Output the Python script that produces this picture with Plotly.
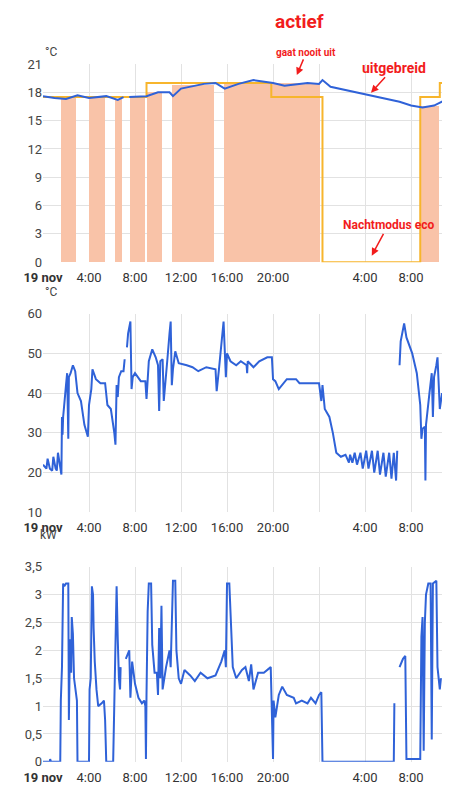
import plotly.graph_objects as go

# --- top panel: room temperature, setpoint, heating periods (hours since 19 nov 0:00)
room_t = [0, 1, 2, 3, 4, 5.5, 6.5, 7.0, 7.2, 7.5, 9, 10, 11, 11.3, 12, 14, 15, 15.8, 17, 18.3,
          20, 21, 23, 24, 24.3, 25, 28, 31, 32, 33, 34, 35]
room_v = [17.6, 17.4, 17.3, 17.7, 17.4, 17.6, 17.2, 17.5, None, 17.5, 17.6, 18, 18, 17.6, 18.4,
          18.9, 19, 18.4, 18.9, 19.3, 19, 18.7, 19, 18.9, 19.3, 18.6, 17.8, 17, 16.6, 16.4, 16.6, 17.2]

set_t = [0, 9.0, 19.85, 24.3, 32.8, 34.5, 34.8]
set_v = [17.5, 19, 17.5, 0, 17.5, 19, 19]

heat_start = [1.57, 4.0, 6.29, 7.57, 9.0, 11.2, 15.77, 32.86]
heat_end = [2.91, 5.43, 6.91, 8.89, 10.31, 14.91, 24.06, 34.43]
heat_top = [17.4, 17.5, 17.3, 17.5, 18.0, 18.8, 19.0, 16.5]

# --- middle panel: water temperature
water_t = [0, 0.3, 0.4, 0.6, 0.8, 0.9, 1.1, 1.2, 1.3, 1.5, 1.6, 1.65, 1.7, 1.75, 1.8, 2.0, 2.1, 2.2,
           2.25, 2.4, 2.6, 2.8, 3.0, 3.3, 3.6, 3.9, 4.0, 4.2, 4.3, 4.6, 5.0, 5.4, 5.6, 5.9, 6.2, 6.3,
           6.4, 6.5, 6.6, 6.8, 7.0, 7.1, 7.2, 7.3, 7.4, 7.6, 7.7, 7.8, 8.0, 8.5, 8.9, 9.0, 9.1, 9.2,
           9.5, 9.8, 10.0, 10.1, 10.2, 10.4, 10.5, 10.6, 10.8, 11.0, 11.1, 11.2, 11.3, 11.5, 11.8,
           12.5, 13, 13.5, 14.2, 15.0, 15.1, 15.3, 15.5, 15.7, 15.9, 16.0, 16.3, 16.8, 17.2, 17.7,
           17.75, 17.8, 18.3, 18.8, 19.5, 19.9, 20.0, 20.2, 20.5, 21.2, 22, 22.3, 24.0, 24.2, 24.3,
           24.5, 24.9, 25.2, 25.5, 25.9, 26.3, 26.6, 26.7, 26.9, 27.1, 27.3, 27.6, 27.8, 28.1, 28.3,
           28.6, 28.8, 29.1, 29.3, 29.6, 29.8, 30.1, 30.3, 30.5, 30.7, 30.8, 30.9, 31.0, 31.1, 31.4,
           31.6, 32.1, 32.5, 32.8, 32.9, 33.0, 33.2, 33.25, 33.3, 33.6, 33.8, 33.9, 34.0, 34.2, 34.3,
           34.5, 34.7]
water_v = [22, 21, 23.5, 21, 20.5, 24, 21, 20.5, 25, 20.5, 19.5, 34, 29.5, 34, 36, 42, 45, 28.5,
           44, 45, 47, 45.5, 40, 38, 32, 29, 37, 41, 46, 43.5, 42.5, 42.5, 37, 36, 30, 27,
           42, 39, 44, 45.5, 45.5, 48.5, None, 51.5, 55, 58, 41, 44, 45, 43, 43, 38.5, 43, 48,
           51, 49, 47, 35.5, 48, 48.5, 38, 42, 48, 55, 58, 42, 46, 50.5, 47.5,
           47, 46.5, 45.5, 46.5, 46, 40.5, 46, 52, 58, 44, 50, 48, 47, 48, 47,
           45, 48, 46.5, 48, 49, 49, 43.5, 43, 41, 43.5, 43.5, 42.5, 42.5, 38, 42,
           36, 34, 30, 25, 24, 24.5, 22.5, 24.5, 22.5, 25, 22, 25, 21, 25.5, 21,
           25.5, 20, 25.5, 19.5, 25, 19, 25, 18.5, 25, 18, 25.5, None, 47, 53, 57.5,
           54, 50, 45, 37, 28.5, 31, 31.5, 18, 32, 40, 45, 34, 44, 47, 49,
           36, 40]

# --- bottom panel: power (kW)
power_t = [0, 0.6, 0.62, 0.7, 1.5, 1.55, 1.65, 1.75, 1.85, 2.0, 2.2, 2.25, 2.35, 2.45, 2.5, 2.6,
           2.7, 2.8, 2.95, 3.0, 4.0, 4.05, 4.15, 4.25, 4.35, 4.4, 4.5, 4.65, 4.8, 5.1, 5.3, 5.4,
           5.5, 6.1, 6.2, 6.3, 6.4, 6.5, 6.6, 6.7, 6.75, 7.0, 7.2, 7.5, 7.6, 7.75, 8.0, 8.3, 8.6,
           8.8, 8.9, 8.95, 9.0, 9.1, 9.2, 9.4, 9.5, 9.7, 9.9, 10.0, 10.1, 10.2, 10.3, 10.4, 10.7,
           11.0, 11.1, 11.2, 11.3, 11.5, 11.6, 11.8, 12.0, 12.3, 12.8, 13.2, 13.7, 14.3, 15.0, 15.5,
           15.8, 15.9, 16.0, 16.2, 16.3, 16.5, 16.8, 17.3, 17.6, 17.9, 18.1, 18.3, 18.7, 19.2,
           19.8, 20.0, 20.05, 20.2, 20.5, 20.8, 21.2, 21.8, 22.0, 22.5, 23.0, 23.3, 23.7, 24.0,
           24.2, 24.3, 30.5, 30.55, 30.8, 31.0, 31.3, 31.5, 31.6, 32.8, 32.9, 33.0, 33.1, 33.2,
           33.3, 33.5, 33.7, 33.8, 33.9, 34.2, 34.3, 34.5, 34.6]
power_v = [0, 0, 0.05, 0, 0, 1.1, 1.7, 3.2, 3.15, 3.2, 3.2, 0.75, 2.2, 1.6, 2.6, 2.3,
           1.5, 1.3, 1.1, 0, 0, 1.3, 1.5, 3.15, 3.0, 2.4, 1.8, 1.3, 1.0, 1.05, 1.1, 0.75,
           0, 0, 1.3, 2.5, 3.15, 2.2, 1.5, 1.3, 1.7, None, 1.85, 2.0, 1.15, 1.8, 1.4, 1.15, 1.05,
           1.1, 1.0, 0.05, 1.2, 2.7, 3.2, 3.2, 2.1, 1.6, 1.6, 1.2, 2.4, 1.5, 2.8, 1.3, 1.7,
           2.0, 1.7, 2.8, 3.25, 3.25, 2.0, 1.5, 1.4, 1.65, 1.55, 1.45, 1.6, 1.5, 1.55, 1.8,
           2.0, 1.7, 3.2, 3.2, 2.6, 1.7, 1.5, 1.65, 1.7, 1.45, 1.75, 1.3, 1.6, 1.6,
           1.7, 0.05, 1.1, 0.8, 1.2, 1.35, 1.2, 1.15, 1.05, 1.1, 1.05, 1.15, 1.05, 1.2,
           1.25, 0, 0, 1.05, None, 1.7, 1.85, 1.9, 0.05, 0.05, 2.25, 2.6, 0.2, 2.5,
           3.0, 3.2, 3.2, 0.4, 3.2, 3.25, 1.7, 1.3, 1.5]

tick_vals = [0, 4, 8, 12, 16, 20, 24, 28, 32]
tick_text = ["<b>19 nov</b>", "4:00", "8:00", "12:00", "16:00", "20:00", "", "4:00", "8:00"]

blue = "#2f62d8"
orange = "#f7b52c"
fill = "#f9c3a8"
red = "#f21c1c"

fig = go.Figure()

fig.add_trace(go.Bar(
    x=[(s + e) / 2 for s, e in zip(heat_start, heat_end)],
    y=heat_top,
    width=[e - s for s, e in zip(heat_start, heat_end)],
    marker=dict(color=fill, line=dict(width=0)),
    xaxis="x", yaxis="y"
))
fig.add_trace(go.Scatter(x=set_t, y=set_v, mode="lines", line=dict(color=orange, width=2, shape="hv"),
                         xaxis="x", yaxis="y"))
fig.add_trace(go.Scatter(x=room_t, y=room_v, mode="lines", line=dict(color=blue, width=2),
                         xaxis="x", yaxis="y"))
fig.add_trace(go.Scatter(x=water_t, y=water_v, mode="lines", line=dict(color=blue, width=2),
                         xaxis="x2", yaxis="y2"))
fig.add_trace(go.Scatter(x=power_t, y=power_v, mode="lines", line=dict(color=blue, width=2),
                         xaxis="x3", yaxis="y3"))

xstyle = dict(range=[0, 35.3], tickvals=tick_vals, ticktext=tick_text, showgrid=True,
              gridcolor="#e2e2e2", zeroline=False, showline=False, ticks="",
              ticklabelstandoff=6, tickfont=dict(size=13, color="#333"))
ystyle = dict(showgrid=True, gridcolor="#e2e2e2", zeroline=False, ticks="",
              tickfont=dict(size=13, color="#444"))

fig.update_layout(
    width=450,
    height=800,
    margin=dict(l=35, r=9, t=10, b=28),
    paper_bgcolor="white",
    plot_bgcolor="white",
    showlegend=False,
    separators=",.",
    font=dict(family="Roboto", color="#444"),
    bargap=0,
    xaxis=dict(domain=[0, 1], anchor="y", **xstyle),
    xaxis2=dict(domain=[0, 1], anchor="y2", matches="x", **xstyle),
    xaxis3=dict(domain=[0, 1], anchor="y3", matches="x", **xstyle),
    yaxis=dict(domain=[0.685, 0.947], range=[0, 21], dtick=3, **ystyle),
    yaxis2=dict(domain=[0.354, 0.617], range=[10, 60], dtick=10, **ystyle),
    yaxis3=dict(domain=[0.024, 0.282], range=[0, 3.5], dtick=0.5, **ystyle),
)

for text, ypos in [("°C", 0.975), ("°C", 0.645), ("kW", 0.312)]:
    fig.add_annotation(text=text, xref="paper", yref="paper", x=-0.01, y=ypos,
                       xanchor="right", showarrow=False, font=dict(size=12, color="#444"),
                       xshift=20)

fig.add_annotation(text="<b>actief</b>", xref="x", yref="paper", x=22.3, y=1.003, yanchor="middle",
                   showarrow=False, font=dict(size=19, color=red))
fig.add_annotation(text="<b>gaat nooit uit</b>", x=22.0, y=19.0, xref="x", yref="y",
                   ax=22.9, ay=21.6, axref="x", ayref="y", showarrow=True, arrowhead=2,
                   arrowcolor=red, arrowwidth=1.5, font=dict(size=10, color=red), yshift=6,
                   standoff=2)
fig.add_annotation(text="<b>uitgebreid</b>", x=28.4, y=17.8, xref="x", yref="y",
                   ax=30.5, ay=20.6, axref="x", ayref="y", showarrow=True, arrowhead=2,
                   arrowcolor=red, arrowwidth=1.5, font=dict(size=14, color=red), standoff=2)
fig.add_annotation(text="<b>Nachtmodus eco</b>", x=28.5, y=0.5, xref="x", yref="y",
                   ax=30.0, ay=3.9, axref="x", ayref="y", showarrow=True, arrowhead=2,
                   arrowcolor=red, arrowwidth=1.5, font=dict(size=12, color=red), standoff=2)

fig.write_html("out.html")
